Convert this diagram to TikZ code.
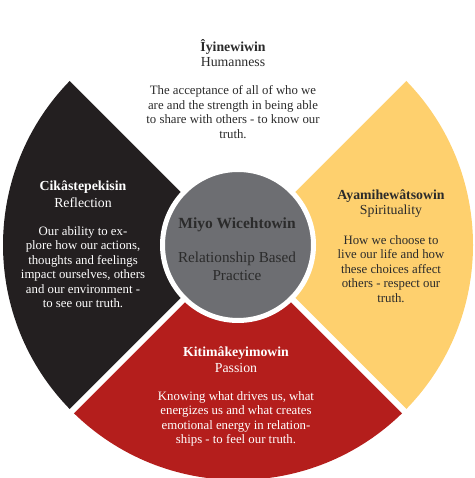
\documentclass[tikz,border=0pt]{standalone}
\usepackage{fontspec}
\setmainfont{Liberation Serif}
\usepackage{xcolor}
\usetikzlibrary{positioning}

\definecolor{wheelblack}{HTML}{231F20}
\definecolor{wheelyellow}{HTML}{FED06E}
\definecolor{wheelred}{HTML}{B41E1C}
\definecolor{wheelgray}{HTML}{6D6E72}
\definecolor{inkgray}{HTML}{2B2B2B}

\begin{document}
\begin{tikzpicture}[x=1pt,y=1pt,
    headtext/.style={font=\fontsize{13.8}{15}\selectfont\bfseries,align=center,inner sep=0pt},
    subtext/.style={font=\fontsize{13.8}{15}\selectfont,align=center,inner sep=0pt},
    bodytext/.style={font=\fontsize{12.8}{14.5}\selectfont,align=center,inner sep=0pt},
    gap/.style={white,line width=6pt}]
  \useasboundingbox (0,0) rectangle (474,478);
  \coordinate (hub) at (238,233);
  % quadrants of the wheel
  \fill[wheelblack] (hub) -- ++(135:235) arc (135:225:235) -- cycle;
  \fill[wheelred] (hub) -- ++(225:235) arc (225:315:235) -- cycle;
  \fill[wheelyellow] (hub) -- ++(-45:235) arc (-45:45:235) -- cycle;
  \foreach \a in {45,135,225,315}
    \draw[gap] (hub) -- ++(\a:240);
  % centre circle
  \node[circle,fill=wheelgray,draw=white,line width=5pt,minimum size=151pt] (core) at (hub) {};
  \node[headtext,text=inkgray,font=\fontsize{15.5}{17}\selectfont\bfseries] (coretitle) at (237,253) {Miyo Wicehtowin};
  \node[subtext,text=inkgray,font=\fontsize{15.2}{17.7}\selectfont] (corename) at (237,212) {Relationship Based\\Practice};
  % top: humanness
  \node[headtext,text=inkgray] (toptitle) at (233,431) {Îyinewiwin};
  \node[subtext,text=inkgray] (topname) at (233,416) {Humanness};
  \node[bodytext,text=inkgray] (topbody) at (233,366) {The acceptance of all of who we\\are and the strength in being able\\to share with others - to know our\\truth.};
  % left: reflection
  \node[headtext,text=white] (lefttitle) at (83,291) {Cikâstepekisin};
  \node[subtext,text=white] (leftname) at (83,275) {Reflection};
  \node[bodytext,text=white] (leftbody) at (83,211) {Our ability to ex-\\plore how our actions,\\thoughts and feelings\\impact ourselves, others\\and our environment -\\to see our truth.};
  % right: spirituality
  \node[headtext,text=inkgray] (righttitle) at (391,282) {Ayamihewâtsowin};
  \node[subtext,text=inkgray] (rightname) at (391,267) {Spirituality};
  \node[bodytext,text=inkgray] (rightbody) at (391,209) {How we choose to\\live our life and how\\these choices affect\\others - respect our\\truth.};
  % bottom: passion
  \node[headtext,text=white] (bottomtitle) at (236,125) {Kitimâkeyimowin};
  \node[subtext,text=white] (bottomname) at (236,110) {Passion};
  \node[bodytext,text=white] (bottombody) at (236,59) {Knowing what drives us, what\\energizes us and what creates\\emotional energy in relation-\\ships - to feel our truth.};
\end{tikzpicture}
\end{document}
